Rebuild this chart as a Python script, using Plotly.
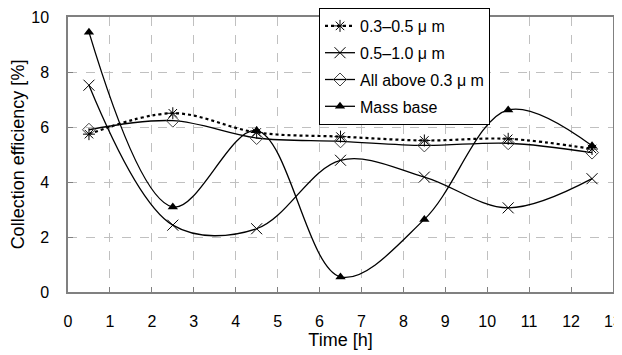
import plotly.graph_objects as go

time_h = [0.5, 2.5, 4.5, 6.5, 8.5, 10.5, 12.5]
s_03_05 = [5.74, 6.5, 5.8, 5.65, 5.51, 5.57, 5.2]
s_05_10 = [7.52, 2.43, 2.3, 4.79, 4.18, 3.06, 4.12]
s_all = [5.9, 6.23, 5.6, 5.48, 5.33, 5.41, 5.07]
s_mass = [9.45, 3.09, 5.87, 0.55, 2.64, 6.62, 5.32]

names = ["0.3\u20130.5 \u03bc m", "0.5\u20131.0 \u03bc m", "All above 0.3 \u03bc m", "Mass base"]
x_ticks = list(range(0, 14))
y_ticks = [0, 2, 4, 6, 8, 10]

FONT = "Liberation Sans, Arial, sans-serif"

fig = go.Figure()
series = [
    (s_03_05, names[0], dict(dash="3px,3px", width=2.2), dict(symbol="asterisk-open", size=10, line=dict(width=1, color="#333"))),
    (s_05_10, names[1], dict(width=1.3), dict(symbol="x-thin-open", size=11, line=dict(width=1, color="#444"))),
    (s_all, names[2], dict(width=1.3), dict(symbol="diamond-open", size=10, color="#444", line=dict(width=1, color="#444"))),
    (s_mass, names[3], dict(width=1.3), dict(symbol="triangle-up", size=9, color="black")),
]
for i, (vals, nm, ln, mk) in enumerate(series):
    fig.add_trace(go.Scatter(
        x=time_h, y=vals, name=nm, mode="lines+markers",
        line=dict(color="black", shape="spline", smoothing=1, **ln),
        marker=mk, legendgroup=f"g{i}",
    ))

# page body has an 8px margin; figure sized so the plot lands where the reference has it
W, H = 614, 347
ML, MR, MT, MB = 60, 9, 9, 63
PW = W - ML - MR
PH = H - MT - MB

fig.update_layout(
    width=W, height=H,
    margin=dict(l=ML, r=MR, t=MT, b=MB, autoexpand=False),
    paper_bgcolor="white", plot_bgcolor="white",
    font=dict(family=FONT, size=16, color="black"),
    showlegend=True,
    legend=dict(
        x=(319 - 8 - ML) / PW, y=1 + MT / PH, xanchor="left", yanchor="top",
        bgcolor="white", bordercolor="black", borderwidth=1,
        font=dict(size=16, family=FONT), tracegroupgap=3, traceorder="grouped",
    ),
)
fig.update_xaxes(
    range=[0, 13], tickvals=x_ticks, ticktext=[str(v) for v in x_ticks],
    showgrid=True, gridcolor="#c0c0c0", griddash="dash", gridwidth=1,
    showline=True, linecolor="#808080", linewidth=1.5, mirror=True,
    ticks="inside", ticklen=5, tickcolor="#808080",
    zeroline=False, automargin=False,
    title=dict(text="Time [h]", font=dict(size=18), standoff=2),
    tickfont=dict(size=16), ticklabelstandoff=14,
)
fig.update_yaxes(
    range=[0, 10], tickvals=y_ticks, ticktext=[str(v) for v in y_ticks],
    showgrid=True, gridcolor="#c0c0c0", griddash="dash", gridwidth=1,
    showline=True, linecolor="#808080", linewidth=1.5, mirror=True,
    ticks="inside", ticklen=5, tickcolor="#808080",
    zeroline=False, automargin=False,
    title=dict(text="Collection efficiency [%]", font=dict(size=18), standoff=6),
    tickfont=dict(size=16), ticklabelstandoff=14,
)

fig.write_html("out.html")
